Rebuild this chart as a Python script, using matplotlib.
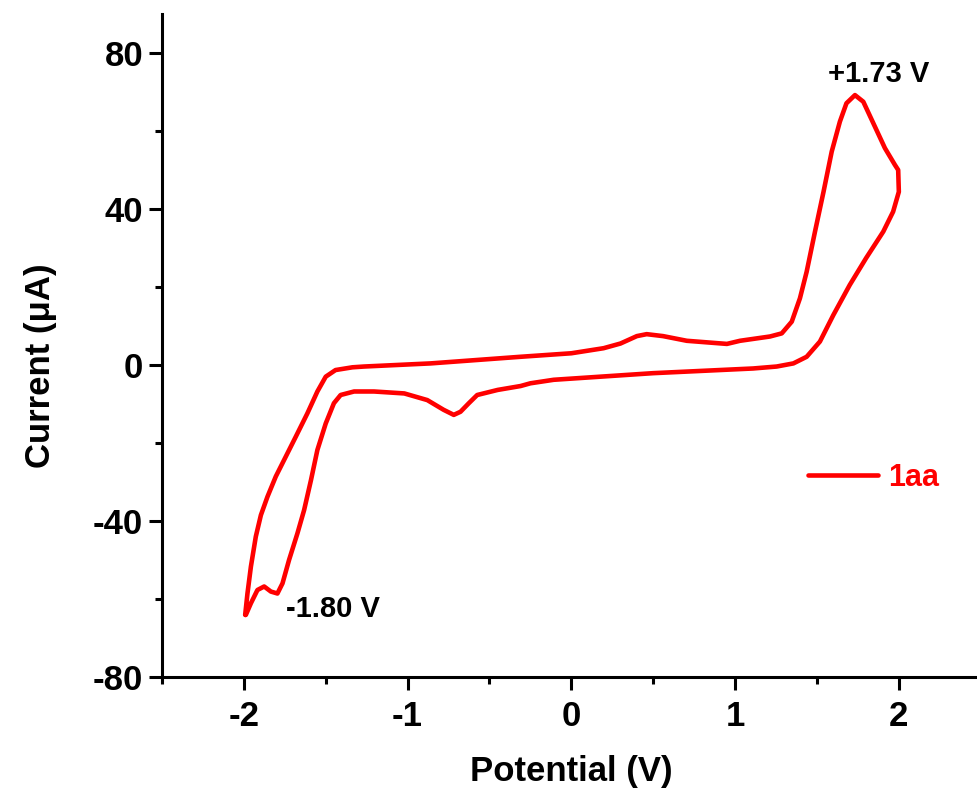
import matplotlib
matplotlib.use("Agg")
import matplotlib.pyplot as plt
from matplotlib.ticker import MultipleLocator

plt.rcParams['font.family'] = ['Liberation Sans', 'DejaVu Sans']
plt.rcParams['font.weight'] = 'bold'
plt.rcParams['axes.unicode_minus'] = False

# Cyclic voltammogram of 1aa (closed loop), potential in V, current in uA
potential = [-1.992, -1.978, -1.957, -1.927, -1.896, -1.856, -1.805, -1.744, -1.683, -1.612,
             -1.551, -1.50, -1.44, -1.337, -1.266, -0.86, -0.31, 0.0, 0.197, 0.30,
             0.40, 0.46, 0.56, 0.705, 0.95, 1.03, 1.213, 1.285, 1.346, 1.396,
             1.437, 1.488, 1.54, 1.59, 1.64, 1.68, 1.732, 1.783, 1.844, 1.915,
             1.976, 1.996, 2.0, 1.965, 1.905, 1.80, 1.70, 1.60, 1.518, 1.437,
             1.356, 1.254, 1.11, 0.50, -0.108, -0.25, -0.31, -0.45, -0.575, -0.626,
             -0.677, -0.718, -0.78, -0.88, -1.02, -1.205, -1.327, -1.409, -1.45, -1.50,
             -1.551, -1.59, -1.632, -1.673, -1.724, -1.764, -1.795, -1.835, -1.876, -1.917,
             -1.957, -1.988]
current = [-64.1, -58.6, -51.7, -44.0, -38.5, -33.8, -28.6, -23.5, -18.4, -12.4,
           -6.8, -3.0, -1.3, -0.6, -0.4, 0.4, 2.1, 3.0, 4.3, 5.5,
           7.4, 7.9, 7.4, 6.2, 5.4, 6.2, 7.3, 8.1, 11.1, 17.1,
           23.9, 34.2, 44.4, 54.7, 62.4, 67.1, 69.2, 67.5, 62.0, 55.6,
           51.3, 50.0, 44.4, 39.3, 34.2, 27.4, 20.5, 12.8, 6.0, 2.1,
           0.4, -0.4, -0.9, -2.1, -3.8, -4.7, -5.4, -6.4, -7.7, -9.8,
           -12.0, -12.8, -11.5, -9.0, -7.3, -6.8, -6.8, -7.7, -9.8, -15.0,
           -21.8, -29.5, -37.2, -43.2, -50.0, -56.0, -58.6, -58.1, -56.8, -57.7,
           -61.1, -64.1]

series_label = "1aa"
peak_labels = ["+1.73 V", "-1.80 V"]
peak_label_pos = [(1.567, 74.6), (-1.745, -62.6)]

x_ticks = [-2, -1, 0, 1, 2]
y_ticks = [-80, -40, 0, 40, 80]

fig = plt.figure(figsize=(9.77, 7.94), dpi=100)
ax = fig.add_axes([0.1658, 0.1474, 0.838, 0.835])

ax.plot(potential, current, color='#ff0000', lw=3.3, solid_joinstyle='round',
        solid_capstyle='round', label=series_label)

ax.set_xlim(-2.5, 2.5)
ax.set_ylim(-80, 90)
ax.set_xticks(x_ticks)
ax.set_yticks(y_ticks)
ax.xaxis.set_minor_locator(MultipleLocator(0.5))
ax.yaxis.set_minor_locator(MultipleLocator(20))

for s in ['top', 'right']:
    ax.spines[s].set_visible(False)
for s in ['left', 'bottom']:
    ax.spines[s].set_linewidth(2.2)

ax.tick_params(which='major', direction='out', length=9.5, width=2.2, labelsize=25)
ax.tick_params(axis='x', which='major', pad=7)
ax.tick_params(axis='y', which='major', pad=4)
ax.tick_params(which='minor', direction='out', length=5, width=2.2)
for lab in ax.get_xticklabels() + ax.get_yticklabels():
    lab.set_fontweight('bold')

ax.set_xlabel("Potential (V)", fontsize=25, fontweight='bold')
ax.set_ylabel("Current (\u03bcA)", fontsize=25, fontweight='bold')
ax.xaxis.set_label_coords(0.5, -0.118)
ax.yaxis.set_label_coords(-0.128, 0.47)

ax.text(peak_label_pos[0][0], peak_label_pos[0][1], peak_labels[0], fontsize=21,
        fontweight='bold', ha='left', va='center')
ax.text(peak_label_pos[1][0], peak_label_pos[1][1], peak_labels[1], fontsize=21,
        fontweight='bold', ha='left', va='center')

leg = ax.legend(loc='center left', bbox_to_anchor=(0.755, 0.3), frameon=False,
                handlelength=2.3, handletextpad=0.33, labelcolor='#ff0000',
                prop={'size': 22, 'weight': 'bold'})

fig.savefig("out.png", dpi=100)
